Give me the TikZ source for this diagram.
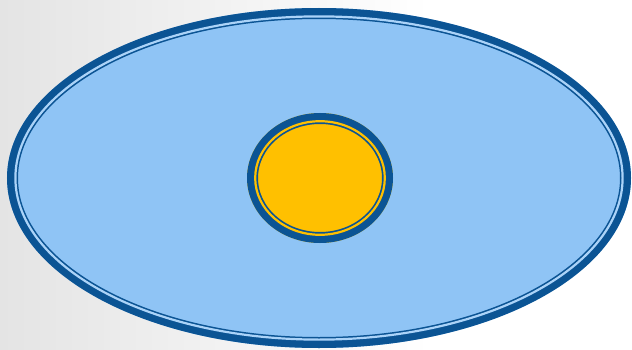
\documentclass[tikz,border=0pt]{standalone}
\usepackage{tikz}
\usepackage[dvipsnames]{xcolor}
\definecolor{rimblue}{RGB}{11,84,148}
\definecolor{cellblue}{RGB}{143,196,245}
\definecolor{coreyellow}{RGB}{255,192,0}
\definecolor{bggray}{RGB}{228,228,228}

\begin{document}
\begin{tikzpicture}[x=1pt, y=1pt, rim/.style={draw=rimblue, line width=11pt}, innerline/.style={line width=2.2pt}]
    % Background (632 x 349)
    \useasboundingbox (0, 0) rectangle (632, 349);
    \fill[white] (0, 0) rectangle (632, 349);
    \shade[left color=bggray, right color=white] (0, 0) rectangle (430, 349);

    % Outer cell (x=319, y=171)
    \fill[cellblue] (319, 171) ellipse [x radius=312, y radius=170];
    \draw[rim] (319, 171) ellipse [x radius=306.5, y radius=164.5];
    \draw[innerline, draw=cellblue!75!white] (319, 171) ellipse [x radius=303.6, y radius=161.6];

    % Core (x=320, y=171)
    \fill[coreyellow] (320, 171) ellipse [x radius=73, y radius=65];
    \draw[rim] (320, 171) ellipse [x radius=67.5, y radius=59.5];
    \draw[innerline, draw=coreyellow] (320, 171) ellipse [x radius=64.8, y radius=56.8];
\end{tikzpicture}
\end{document}
